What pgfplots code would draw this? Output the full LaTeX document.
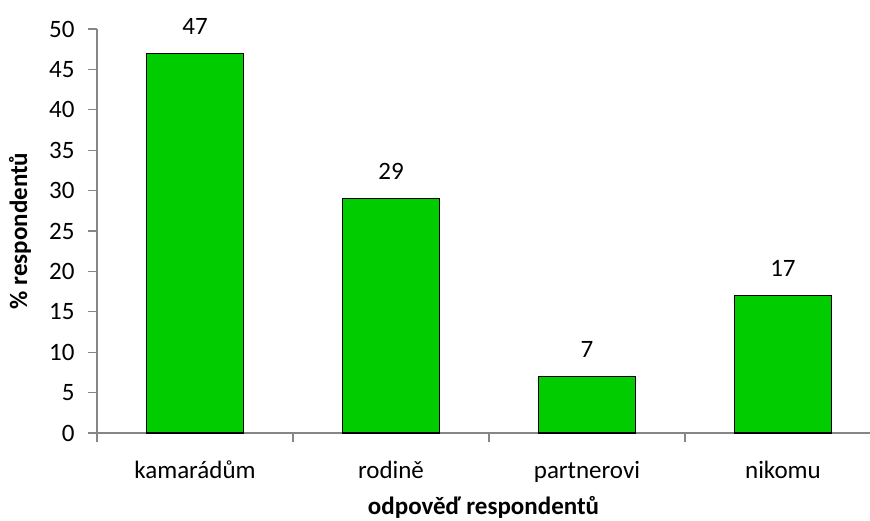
\documentclass[border=0pt]{standalone}
\usepackage{pgfplots}
\pgfplotsset{compat=1.18}
\usepackage{fontspec}
\setmainfont{Carlito}
\definecolor{barg}{HTML}{00CC00}
\definecolor{axg}{HTML}{868686}
\begin{document}
\begin{tikzpicture}[x=1pt,y=1pt]
\useasboundingbox (0,0) rectangle (870,520);
\begin{axis}[
  scale only axis, width=773pt, height=404pt,
  at={(97pt,87pt)}, anchor=south west,
  xmin=-0.5, xmax=3.444, ymin=0, ymax=50,
  axis x line*=bottom, axis y line*=left,
  axis line style={axg, line width=1.2pt},
  every outer x axis line/.append style={-},
  every outer y axis line/.append style={-},
  ytick={0,5,...,50},
  xtick={0,1,2,3},
  xticklabels={kamarádům,rodině,partnerovi,nikomu},
  minor xtick={-0.5,0.5,1.5,2.5},
  tick align=outside,
  major tick length=9pt, minor tick length=9pt,
  x tick style={draw=none},
  minor x tick style={draw=axg, line width=1.2pt},
  y tick style={axg, line width=1.2pt},
  ytick pos=left,
  tick label style={font=\fontsize{25}{30}\selectfont},
  /pgf/number format/assume math mode=true,
  yticklabel style={xshift=-10pt},
  xticklabel style={anchor=base, yshift=-36pt},
  ylabel={\textbf{\% respondentů}},
  xlabel={\textbf{odpověď respondentů}},
  label style={font=\fontsize{25}{30}\selectfont},
  ylabel style={at={(axis description cs:-0.0996,0.5)}, anchor=center},
  xlabel style={at={(axis description cs:0.5,-0.185)}, anchor=center},
  ybar, bar width=97pt,
  nodes near coords,
  every node near coord/.append style={font=\fontsize{25}{30}\selectfont, yshift=15pt, text=black},
]
\addplot[fill=barg, draw=black, line width=1.3pt] coordinates {(0,47) (1,29) (2,7) (3,17)};
\end{axis}
\end{tikzpicture}
\end{document}
